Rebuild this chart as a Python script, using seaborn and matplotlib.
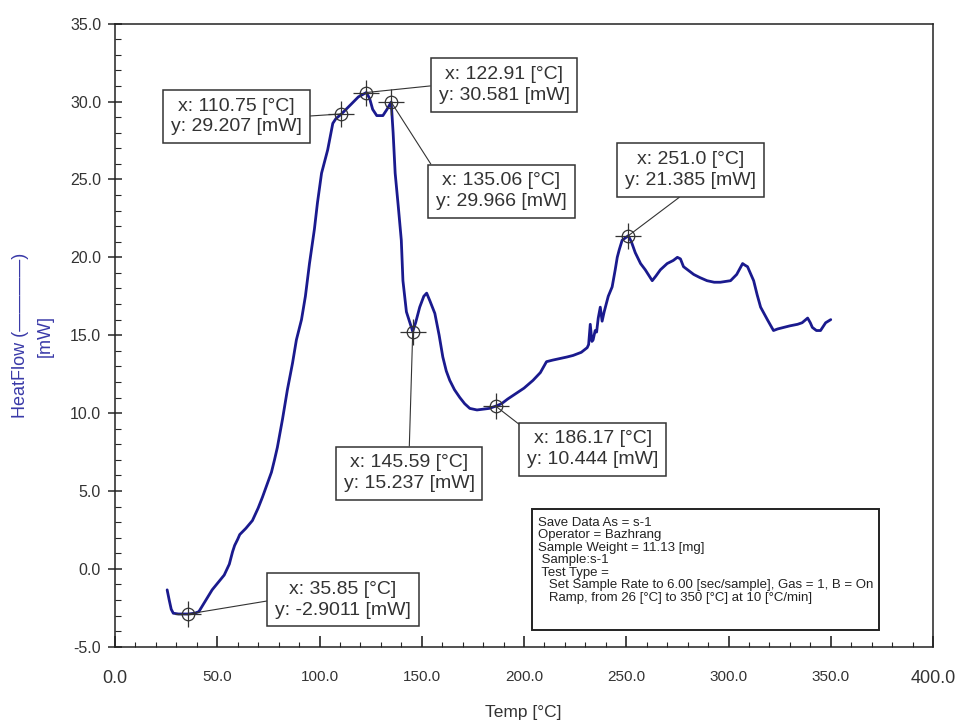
import matplotlib
matplotlib.use("Agg")
import matplotlib.pyplot as plt
from matplotlib.ticker import MultipleLocator, FormatStrFormatter
from matplotlib.patches import Rectangle
import numpy as np
import pandas as pd
import seaborn as sns

# DSC heat-flow trace (temperature in °C, heat flow in mW)
temp = [25.5, 26.5, 27.5, 28.5, 31.0, 35.85, 39.0, 41.0, 44.0, 47.5, 50.0, 53.4, 55.9,
        57.5, 58.5, 60.0, 61.0, 64.0, 67.2, 70.0, 72.1, 74.0, 76.5, 78.0, 79.4, 81.9,
        84.3, 86.8, 88.7, 91.2, 93.1, 95.1, 97.5, 99.0, 101.0, 104.0, 106.5, 108.0,
        110.75, 113.0, 116.0, 119.0, 122.91, 124.5, 126.0, 128.0, 131.0, 133.0, 135.06,
        136.0, 137.0, 138.5, 140.0, 140.8, 142.5, 145.59, 147.0, 149.0, 151.0, 152.4,
        154.0, 156.4, 158.5, 160.3, 162.0, 163.7, 166.0, 168.6, 171.0, 173.5, 177.0,
        180.0, 183.0, 186.17, 189.0, 192.0, 196.6, 200.0, 204.4, 208.0, 211.0, 214.0,
        217.6, 221.0, 224.0, 228.0, 230.9, 231.6, 232.4, 233.2, 233.8, 234.8, 235.5,
        236.3, 237.3, 238.2, 239.2, 241.2, 243.1, 244.6, 245.6, 246.6, 248.0, 251.0,
        252.5, 254.4, 257.0, 259.3, 262.7, 264.5, 266.7, 270.0, 273.0, 275.0, 276.5,
        278.0, 283.0, 286.0, 289.5, 293.0, 296.0, 301.0, 304.0, 306.9, 308.0, 309.3,
        312.3, 314.0, 315.7, 319.0, 322.0, 324.0, 327.0, 330.0, 333.8, 336.0, 338.7,
        340.0, 341.0, 343.0, 345.0, 347.5, 350.0]
heat_flow = [-1.35, -2.0, -2.6, -2.85, -2.9, -2.9011, -2.85, -2.75, -2.1, -1.35, -0.95, -0.4,
             0.3, 1.1, 1.5, 1.9, 2.2, 2.6, 3.1, 3.9, 4.6, 5.3, 6.2, 7.0, 7.8, 9.6,
             11.5, 13.2, 14.7, 16.0, 17.5, 19.6, 21.8, 23.5, 25.4, 26.9, 28.6, 28.9,
             29.207, 29.5, 29.9, 30.3, 30.581, 30.2, 29.5, 29.1, 29.1, 29.5, 29.966,
             28.0, 25.4, 23.3, 21.1, 18.5, 16.5, 15.237, 15.8, 16.8, 17.5, 17.7,
             17.2, 16.4, 15.0, 13.6, 12.7, 12.1, 11.5, 11.0, 10.6, 10.3, 10.2,
             10.25, 10.3, 10.444, 10.6, 10.9, 11.3, 11.6, 12.1, 12.6, 13.3, 13.4,
             13.5, 13.6, 13.7, 13.9, 14.2, 14.4, 15.7, 14.6, 14.7, 15.3, 15.2,
             16.1, 16.8, 15.9, 16.5, 17.5, 18.1, 19.2, 20.0, 20.5, 21.1, 21.385,
             21.0, 20.3, 19.6, 19.2, 18.5, 18.8, 19.2, 19.6, 19.8, 20.0, 19.9,
             19.4, 18.9, 18.7, 18.5, 18.4, 18.4, 18.5, 18.9, 19.6, 19.5, 19.4,
             18.5, 17.6, 16.8, 16.0, 15.3, 15.4, 15.5, 15.6, 15.7, 15.8, 16.1,
             15.8, 15.5, 15.3, 15.3, 15.8, 16.0]

# Picked points on the trace
pick_x = [35.85, 110.75, 122.91, 135.06, 145.59, 186.17, 251.0]
pick_y = [-2.9011, 29.207, 30.581, 29.966, 15.237, 10.444, 21.385]

# Run information
info_lines = [
    "Save Data As = s-1",
    "Operator = Bazhrang",
    "Sample Weight = 11.13 [mg]",
    " Sample:s-1",
    " Test Type =",
    "   Set Sample Rate to 6.00 [sec/sample], Gas = 1, B = On",
    "   Ramp, from 26 [°C] to 350 [°C] at 10 [°C/min]",
]

x_ticks = [0.0, 50.0, 100.0, 150.0, 200.0, 250.0, 300.0, 350.0, 400.0]
y_ticks = [-5.0, 0.0, 5.0, 10.0, 15.0, 20.0, 25.0, 30.0, 35.0]

# Label box centres (data coords) and the box point the leader line leaves from
box_xy = [(111.5, -1.98), (59.4, 29.04), (190.3, 31.06), (189.0, 24.24),
          (143.8, 6.13), (233.6, 7.67), (281.3, 25.6)]
box_rel = [(0.0, 0.5), (1.0, 0.5), (0.0, 0.5), (0.0, 1.0),
           (0.5, 1.0), (0.0, 1.0), (0.5, 0.0)]

sns.set_style("ticks")
plt.rcParams["font.family"] = ["Liberation Sans", "DejaVu Sans"]

fig = plt.figure(figsize=(9.59, 7.22), dpi=100)
ax = fig.add_axes([115 / 959, 1 - 646.7 / 722, 818 / 959, 623 / 722])

df = pd.DataFrame({"Temp": temp, "HeatFlow": heat_flow})
sns.lineplot(data=df, x="Temp", y="HeatFlow", ax=ax, sort=False, estimator=None,
             color="#1a1a8e", lw=2.0)

ax.set_xlim(0, 400)
ax.set_ylim(-5, 35)
ax.set_xlabel("")
ax.set_ylabel("")

for s in ax.spines.values():
    s.set_linewidth(1.1)
    s.set_color("#222222")

ax.set_xticks(x_ticks)
ax.set_yticks(y_ticks)
ax.xaxis.set_minor_locator(MultipleLocator(10))
ax.yaxis.set_minor_locator(MultipleLocator(1))
ax.yaxis.set_major_formatter(FormatStrFormatter("%.1f"))
ax.xaxis.set_major_formatter(FormatStrFormatter("%.1f"))
ax.tick_params(axis="x", which="major", direction="in", length=8, width=1.2,
               pad=17, labelsize=11, labelcolor="#333333")
ax.tick_params(axis="x", which="minor", direction="in", length=3.5, width=0.8)
ax.tick_params(axis="y", which="major", direction="inout", length=10, width=1.1,
               pad=5, labelsize=11.5, labelcolor="#333333")
ax.tick_params(axis="y", which="minor", direction="in", length=4, width=0.8)
xl = ax.get_xticklabels()
for i in (0, len(xl) - 1):
    xl[i].set_fontsize(13)

# Crosshair markers at picked points
ax.plot(pick_x, pick_y, ls="none", marker="o", ms=9, mfc="none", mec="#333333", mew=0.9)
ax.plot(pick_x, pick_y, ls="none", marker="+", ms=19, mec="#333333", mew=0.9)

for px, py, (bx, by), rel in zip(pick_x, pick_y, box_xy, box_rel):
    ax.annotate(f"x: {px} [°C]\ny: {py} [mW]", xy=(px, py), xytext=(bx, by),
                textcoords="data", ha="center", va="center", fontsize=14,
                color="#333333", linespacing=1.3,
                bbox=dict(boxstyle="square,pad=0.4", fc="white", ec="#333333", lw=1.1),
                arrowprops=dict(arrowstyle="-", color="#333333", lw=0.8,
                                shrinkA=0, shrinkB=0, relpos=rel))

# Run information box
ax.add_patch(Rectangle((532, 722 - 630), 347, 121, transform=None, fill=True,
                       fc="white", ec="#222222", lw=1.4, zorder=5))
fig.text(538 / 959, 1 - 517 / 722, "\n".join(info_lines), ha="left", va="top",
         fontsize=9.5, linespacing=1.05, color="#222222", zorder=6)

# Axis titles
fig.text(21 / 959, 1 - 335 / 722, "HeatFlow (\u2014\u2014\u2014\u2014)", rotation=90,
         ha="center", va="center", fontsize=13, color="#3a3aa8")
fig.text(45 / 959, 1 - 336 / 722, "[mW]", rotation=90, ha="center", va="center",
         fontsize=13, color="#3a3aa8")
fig.text(523 / 959, 1 - 712 / 722, "Temp [°C]", ha="center", va="center",
         fontsize=12.5, color="#333333")

fig.savefig("out.png", dpi=100)
